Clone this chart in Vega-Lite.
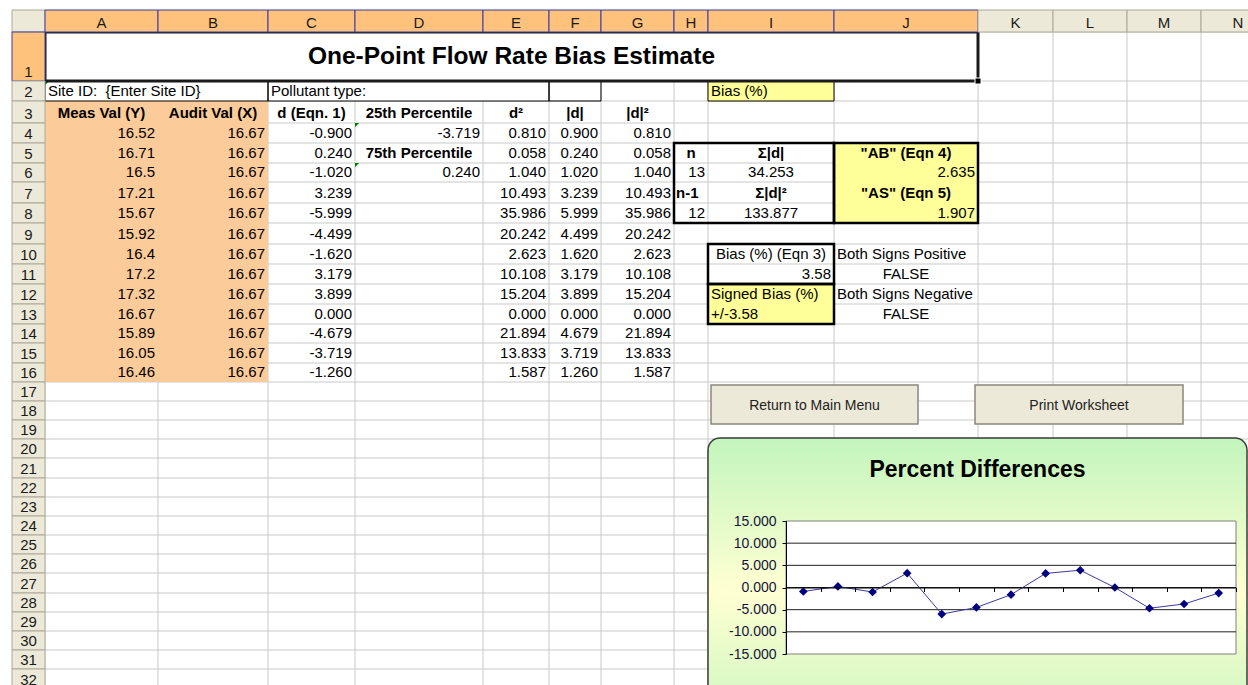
{
"$schema": "https://vega.github.io/schema/vega-lite/v6.json",
"width": 1236, "height": 675,
"autosize": {"type": "none"},
"padding": {"left": 12, "top": 10, "right": 0, "bottom": 0},
"background": "white",
"config": {
  "view": {"stroke": null},
  "text": {"font": "Liberation Sans", "fontSize": 15, "color": "#000000"},
  "axis": {"labelFont": "Liberation Sans"},
  "locale": {"number": {"decimal": ".", "thousands": ",", "grouping": [3], "currency": ["$", ""], "minus": "-"}}
},
"datasets": {
  "cols": [
    {"c": "#", "x0": 12, "x1": 45}, {"c": "A", "x0": 45, "x1": 158}, {"c": "B", "x0": 158, "x1": 268},
    {"c": "C", "x0": 268, "x1": 355}, {"c": "D", "x0": 355, "x1": 483}, {"c": "E", "x0": 483, "x1": 549},
    {"c": "F", "x0": 549, "x1": 601}, {"c": "G", "x0": 601, "x1": 674}, {"c": "H", "x0": 674, "x1": 708},
    {"c": "I", "x0": 708, "x1": 834}, {"c": "J", "x0": 834, "x1": 978}, {"c": "K", "x0": 978, "x1": 1053},
    {"c": "L", "x0": 1053, "x1": 1127}, {"c": "M", "x0": 1127, "x1": 1201}, {"c": "N", "x0": 1201, "x1": 1275}
  ],
  "rows": [
    {"r": 0, "y0": 10, "y1": 32}, {"r": 1, "y0": 32, "y1": 81}, {"r": 2, "y0": 81, "y1": 101},
    {"r": 3, "y0": 101, "y1": 123}, {"r": 4, "y0": 123, "y1": 143}, {"r": 5, "y0": 143, "y1": 163},
    {"r": 6, "y0": 163, "y1": 182}, {"r": 7, "y0": 182, "y1": 203}, {"r": 8, "y0": 203, "y1": 223},
    {"r": 9, "y0": 223, "y1": 244}, {"r": 10, "y0": 244, "y1": 264}, {"r": 11, "y0": 264, "y1": 284},
    {"r": 12, "y0": 284, "y1": 304}, {"r": 13, "y0": 304, "y1": 324}, {"r": 14, "y0": 324, "y1": 343},
    {"r": 15, "y0": 343, "y1": 363}, {"r": 16, "y0": 363, "y1": 382}, {"r": 17, "y0": 382, "y1": 401},
    {"r": 18, "y0": 401, "y1": 420}, {"r": 19, "y0": 420, "y1": 439}, {"r": 20, "y0": 439, "y1": 458},
    {"r": 21, "y0": 458, "y1": 478}, {"r": 22, "y0": 478, "y1": 497}, {"r": 23, "y0": 497, "y1": 516},
    {"r": 24, "y0": 516, "y1": 535}, {"r": 25, "y0": 535, "y1": 554}, {"r": 26, "y0": 554, "y1": 573},
    {"r": 27, "y0": 573, "y1": 593}, {"r": 28, "y0": 593, "y1": 612}, {"r": 29, "y0": 612, "y1": 631},
    {"r": 30, "y0": 631, "y1": 650}, {"r": 31, "y0": 650, "y1": 669}, {"r": 32, "y0": 669, "y1": 689}
  ],
  "pct": [
    {"i": 1, "d": -0.900}, {"i": 2, "d": 0.240}, {"i": 3, "d": -1.020}, {"i": 4, "d": 3.239},
    {"i": 5, "d": -5.999}, {"i": 6, "d": -4.499}, {"i": 7, "d": -1.620}, {"i": 8, "d": 3.179},
    {"i": 9, "d": 3.899}, {"i": 10, "d": 0.000}, {"i": 11, "d": -4.679}, {"i": 12, "d": -3.719},
    {"i": 13, "d": -1.260}
  ],
  "objs": [
    {"id": "btn", "x0": 711, "x1": 918, "y0": 385, "y1": 424, "t": "Return to Main Menu"},
    {"id": "btn", "x0": 975, "x1": 1183, "y0": 385, "y1": 424, "t": "Print Worksheet"},
    {"id": "chart", "x0": 708, "x1": 1247, "y0": 438, "y1": 745, "t": "Percent Differences"}
  ],
  "sheet": [
    {"part": "hdr", "c": "#", "r": 0, "t": "", "kind": "plain"},
    {"part": "hdr", "c": "A", "r": 0, "t": "A", "kind": "sel"},
    {"part": "hdr", "c": "B", "r": 0, "t": "B", "kind": "sel"},
    {"part": "hdr", "c": "C", "r": 0, "t": "C", "kind": "sel"},
    {"part": "hdr", "c": "D", "r": 0, "t": "D", "kind": "sel"},
    {"part": "hdr", "c": "E", "r": 0, "t": "E", "kind": "sel"},
    {"part": "hdr", "c": "F", "r": 0, "t": "F", "kind": "sel"},
    {"part": "hdr", "c": "G", "r": 0, "t": "G", "kind": "sel"},
    {"part": "hdr", "c": "H", "r": 0, "t": "H", "kind": "sel"},
    {"part": "hdr", "c": "I", "r": 0, "t": "I", "kind": "sel"},
    {"part": "hdr", "c": "J", "r": 0, "t": "J", "kind": "sel"},
    {"part": "hdr", "c": "K", "r": 0, "t": "K", "kind": "plain"},
    {"part": "hdr", "c": "L", "r": 0, "t": "L", "kind": "plain"},
    {"part": "hdr", "c": "M", "r": 0, "t": "M", "kind": "plain"},
    {"part": "hdr", "c": "N", "r": 0, "t": "N", "kind": "plain"},
    {"part": "hdr", "c": "#", "r": 1, "t": "1", "kind": "sel"},
    {"part": "hdr", "c": "#", "r": 2, "t": "2", "kind": "plain"},
    {"part": "hdr", "c": "#", "r": 3, "t": "3", "kind": "plain"},
    {"part": "hdr", "c": "#", "r": 4, "t": "4", "kind": "plain"},
    {"part": "hdr", "c": "#", "r": 5, "t": "5", "kind": "plain"},
    {"part": "hdr", "c": "#", "r": 6, "t": "6", "kind": "plain"},
    {"part": "hdr", "c": "#", "r": 7, "t": "7", "kind": "plain"},
    {"part": "hdr", "c": "#", "r": 8, "t": "8", "kind": "plain"},
    {"part": "hdr", "c": "#", "r": 9, "t": "9", "kind": "plain"},
    {"part": "hdr", "c": "#", "r": 10, "t": "10", "kind": "plain"},
    {"part": "hdr", "c": "#", "r": 11, "t": "11", "kind": "plain"},
    {"part": "hdr", "c": "#", "r": 12, "t": "12", "kind": "plain"},
    {"part": "hdr", "c": "#", "r": 13, "t": "13", "kind": "plain"},
    {"part": "hdr", "c": "#", "r": 14, "t": "14", "kind": "plain"},
    {"part": "hdr", "c": "#", "r": 15, "t": "15", "kind": "plain"},
    {"part": "hdr", "c": "#", "r": 16, "t": "16", "kind": "plain"},
    {"part": "hdr", "c": "#", "r": 17, "t": "17", "kind": "plain"},
    {"part": "hdr", "c": "#", "r": 18, "t": "18", "kind": "plain"},
    {"part": "hdr", "c": "#", "r": 19, "t": "19", "kind": "plain"},
    {"part": "hdr", "c": "#", "r": 20, "t": "20", "kind": "plain"},
    {"part": "hdr", "c": "#", "r": 21, "t": "21", "kind": "plain"},
    {"part": "hdr", "c": "#", "r": 22, "t": "22", "kind": "plain"},
    {"part": "hdr", "c": "#", "r": 23, "t": "23", "kind": "plain"},
    {"part": "hdr", "c": "#", "r": 24, "t": "24", "kind": "plain"},
    {"part": "hdr", "c": "#", "r": 25, "t": "25", "kind": "plain"},
    {"part": "hdr", "c": "#", "r": 26, "t": "26", "kind": "plain"},
    {"part": "hdr", "c": "#", "r": 27, "t": "27", "kind": "plain"},
    {"part": "hdr", "c": "#", "r": 28, "t": "28", "kind": "plain"},
    {"part": "hdr", "c": "#", "r": 29, "t": "29", "kind": "plain"},
    {"part": "hdr", "c": "#", "r": 30, "t": "30", "kind": "plain"},
    {"part": "hdr", "c": "#", "r": 31, "t": "31", "kind": "plain"},
    {"part": "hdr", "c": "#", "r": 32, "t": "32", "kind": "plain"},

    {"part": "fill", "c": "A", "c2": "J", "r": 1, "kind": "white"},
    {"part": "fill", "c": "A", "c2": "B", "r": 2, "kind": "white"},
    {"part": "fill", "c": "C", "c2": "E", "r": 2, "kind": "white"},
    {"part": "fill", "c": "A", "c2": "B", "r": 3, "r2": 16, "kind": "input"},
    {"part": "fill", "c": "I", "r": 2, "kind": "result"},
    {"part": "fill", "c": "J", "r": 5, "r2": 8, "kind": "result"},
    {"part": "fill", "c": "I", "r": 12, "r2": 13, "kind": "result"},

    {"part": "box", "c": "A", "c2": "J", "r": 1, "kind": "title"},
    {"part": "box", "c": "A", "c2": "B", "r": 2, "kind": "thin"},
    {"part": "box", "c": "C", "c2": "E", "r": 2, "kind": "thin"},
    {"part": "box", "c": "F", "r": 2, "kind": "thin"},
    {"part": "box", "c": "I", "r": 2, "kind": "thin"},
    {"part": "box", "c": "H", "c2": "I", "r": 5, "r2": 8, "kind": "thick"},
    {"part": "box", "c": "J", "r": 5, "r2": 8, "kind": "thick"},
    {"part": "box", "c": "I", "r": 10, "r2": 11, "kind": "thick"},
    {"part": "box", "c": "I", "r": 12, "r2": 13, "kind": "thick"},

    {"part": "flag", "c": "A", "r": 2},
    {"part": "flag", "c": "D", "r": 4},
    {"part": "flag", "c": "D", "r": 6},
    {"part": "handle", "c": "A", "c2": "J", "r": 1},

    {"part": "text", "c": "A", "c2": "J", "r": 1, "t": "One-Point Flow Rate Bias Estimate", "role": "t"},
    {"part": "text", "c": "A", "c2": "B", "r": 2, "t": "Site ID: \u00a0{Enter Site ID}", "role": "l"},
    {"part": "text", "c": "C", "c2": "E", "r": 2, "t": "Pollutant type:", "role": "l"},
    {"part": "text", "c": "I", "r": 2, "t": "Bias (%)", "role": "l"},
    {"part": "text", "c": "A", "r": 3, "t": "Meas Val (Y)", "role": "cb"},
    {"part": "text", "c": "B", "r": 3, "t": "Audit Val (X)", "role": "cb"},
    {"part": "text", "c": "C", "r": 3, "t": "d (Eqn. 1)", "role": "cb"},
    {"part": "text", "c": "D", "r": 3, "t": "25th Percentile", "role": "cb"},
    {"part": "text", "c": "E", "r": 3, "t": "d²", "role": "cb"},
    {"part": "text", "c": "F", "r": 3, "t": "|d|", "role": "cb"},
    {"part": "text", "c": "G", "r": 3, "t": "|d|²", "role": "cb"},

    {"part": "text", "c": "A", "r": 4, "t": "16.52", "role": "r"},
    {"part": "text", "c": "A", "r": 5, "t": "16.71", "role": "r"},
    {"part": "text", "c": "A", "r": 6, "t": "16.5", "role": "r"},
    {"part": "text", "c": "A", "r": 7, "t": "17.21", "role": "r"},
    {"part": "text", "c": "A", "r": 8, "t": "15.67", "role": "r"},
    {"part": "text", "c": "A", "r": 9, "t": "15.92", "role": "r"},
    {"part": "text", "c": "A", "r": 10, "t": "16.4", "role": "r"},
    {"part": "text", "c": "A", "r": 11, "t": "17.2", "role": "r"},
    {"part": "text", "c": "A", "r": 12, "t": "17.32", "role": "r"},
    {"part": "text", "c": "A", "r": 13, "t": "16.67", "role": "r"},
    {"part": "text", "c": "A", "r": 14, "t": "15.89", "role": "r"},
    {"part": "text", "c": "A", "r": 15, "t": "16.05", "role": "r"},
    {"part": "text", "c": "A", "r": 16, "t": "16.46", "role": "r"},

    {"part": "text", "c": "B", "r": 4, "t": "16.67", "role": "r"},
    {"part": "text", "c": "B", "r": 5, "t": "16.67", "role": "r"},
    {"part": "text", "c": "B", "r": 6, "t": "16.67", "role": "r"},
    {"part": "text", "c": "B", "r": 7, "t": "16.67", "role": "r"},
    {"part": "text", "c": "B", "r": 8, "t": "16.67", "role": "r"},
    {"part": "text", "c": "B", "r": 9, "t": "16.67", "role": "r"},
    {"part": "text", "c": "B", "r": 10, "t": "16.67", "role": "r"},
    {"part": "text", "c": "B", "r": 11, "t": "16.67", "role": "r"},
    {"part": "text", "c": "B", "r": 12, "t": "16.67", "role": "r"},
    {"part": "text", "c": "B", "r": 13, "t": "16.67", "role": "r"},
    {"part": "text", "c": "B", "r": 14, "t": "16.67", "role": "r"},
    {"part": "text", "c": "B", "r": 15, "t": "16.67", "role": "r"},
    {"part": "text", "c": "B", "r": 16, "t": "16.67", "role": "r"},

    {"part": "text", "c": "C", "r": 4, "t": "-0.900", "role": "r"},
    {"part": "text", "c": "C", "r": 5, "t": "0.240", "role": "r"},
    {"part": "text", "c": "C", "r": 6, "t": "-1.020", "role": "r"},
    {"part": "text", "c": "C", "r": 7, "t": "3.239", "role": "r"},
    {"part": "text", "c": "C", "r": 8, "t": "-5.999", "role": "r"},
    {"part": "text", "c": "C", "r": 9, "t": "-4.499", "role": "r"},
    {"part": "text", "c": "C", "r": 10, "t": "-1.620", "role": "r"},
    {"part": "text", "c": "C", "r": 11, "t": "3.179", "role": "r"},
    {"part": "text", "c": "C", "r": 12, "t": "3.899", "role": "r"},
    {"part": "text", "c": "C", "r": 13, "t": "0.000", "role": "r"},
    {"part": "text", "c": "C", "r": 14, "t": "-4.679", "role": "r"},
    {"part": "text", "c": "C", "r": 15, "t": "-3.719", "role": "r"},
    {"part": "text", "c": "C", "r": 16, "t": "-1.260", "role": "r"},

    {"part": "text", "c": "D", "r": 4, "t": "-3.719", "role": "r"},
    {"part": "text", "c": "D", "r": 5, "t": "75th Percentile", "role": "cb"},
    {"part": "text", "c": "D", "r": 6, "t": "0.240", "role": "r"},

    {"part": "text", "c": "E", "r": 4, "t": "0.810", "role": "r"},
    {"part": "text", "c": "E", "r": 5, "t": "0.058", "role": "r"},
    {"part": "text", "c": "E", "r": 6, "t": "1.040", "role": "r"},
    {"part": "text", "c": "E", "r": 7, "t": "10.493", "role": "r"},
    {"part": "text", "c": "E", "r": 8, "t": "35.986", "role": "r"},
    {"part": "text", "c": "E", "r": 9, "t": "20.242", "role": "r"},
    {"part": "text", "c": "E", "r": 10, "t": "2.623", "role": "r"},
    {"part": "text", "c": "E", "r": 11, "t": "10.108", "role": "r"},
    {"part": "text", "c": "E", "r": 12, "t": "15.204", "role": "r"},
    {"part": "text", "c": "E", "r": 13, "t": "0.000", "role": "r"},
    {"part": "text", "c": "E", "r": 14, "t": "21.894", "role": "r"},
    {"part": "text", "c": "E", "r": 15, "t": "13.833", "role": "r"},
    {"part": "text", "c": "E", "r": 16, "t": "1.587", "role": "r"},

    {"part": "text", "c": "F", "r": 4, "t": "0.900", "role": "r"},
    {"part": "text", "c": "F", "r": 5, "t": "0.240", "role": "r"},
    {"part": "text", "c": "F", "r": 6, "t": "1.020", "role": "r"},
    {"part": "text", "c": "F", "r": 7, "t": "3.239", "role": "r"},
    {"part": "text", "c": "F", "r": 8, "t": "5.999", "role": "r"},
    {"part": "text", "c": "F", "r": 9, "t": "4.499", "role": "r"},
    {"part": "text", "c": "F", "r": 10, "t": "1.620", "role": "r"},
    {"part": "text", "c": "F", "r": 11, "t": "3.179", "role": "r"},
    {"part": "text", "c": "F", "r": 12, "t": "3.899", "role": "r"},
    {"part": "text", "c": "F", "r": 13, "t": "0.000", "role": "r"},
    {"part": "text", "c": "F", "r": 14, "t": "4.679", "role": "r"},
    {"part": "text", "c": "F", "r": 15, "t": "3.719", "role": "r"},
    {"part": "text", "c": "F", "r": 16, "t": "1.260", "role": "r"},

    {"part": "text", "c": "G", "r": 4, "t": "0.810", "role": "r"},
    {"part": "text", "c": "G", "r": 5, "t": "0.058", "role": "r"},
    {"part": "text", "c": "G", "r": 6, "t": "1.040", "role": "r"},
    {"part": "text", "c": "G", "r": 7, "t": "10.493", "role": "r"},
    {"part": "text", "c": "G", "r": 8, "t": "35.986", "role": "r"},
    {"part": "text", "c": "G", "r": 9, "t": "20.242", "role": "r"},
    {"part": "text", "c": "G", "r": 10, "t": "2.623", "role": "r"},
    {"part": "text", "c": "G", "r": 11, "t": "10.108", "role": "r"},
    {"part": "text", "c": "G", "r": 12, "t": "15.204", "role": "r"},
    {"part": "text", "c": "G", "r": 13, "t": "0.000", "role": "r"},
    {"part": "text", "c": "G", "r": 14, "t": "21.894", "role": "r"},
    {"part": "text", "c": "G", "r": 15, "t": "13.833", "role": "r"},
    {"part": "text", "c": "G", "r": 16, "t": "1.587", "role": "r"},

    {"part": "text", "c": "H", "r": 5, "t": "n", "role": "cb"},
    {"part": "text", "c": "I", "r": 5, "t": "Σ|d|", "role": "cb"},
    {"part": "text", "c": "H", "r": 6, "t": "13", "role": "r"},
    {"part": "text", "c": "I", "r": 6, "t": "34.253", "role": "c"},
    {"part": "text", "c": "H", "r": 7, "t": "n-1", "role": "lb"},
    {"part": "text", "c": "I", "r": 7, "t": "Σ|d|²", "role": "cb"},
    {"part": "text", "c": "H", "r": 8, "t": "12", "role": "r"},
    {"part": "text", "c": "I", "r": 8, "t": "133.877", "role": "c"},
    {"part": "text", "c": "J", "r": 5, "t": "\"AB\" (Eqn 4)", "role": "cb"},
    {"part": "text", "c": "J", "r": 6, "t": "2.635", "role": "r"},
    {"part": "text", "c": "J", "r": 7, "t": "\"AS\" (Eqn 5)", "role": "cb"},
    {"part": "text", "c": "J", "r": 8, "t": "1.907", "role": "r"},
    {"part": "text", "c": "I", "r": 10, "t": "Bias (%) (Eqn 3)", "role": "c"},
    {"part": "text", "c": "I", "r": 11, "t": "3.58", "role": "r"},
    {"part": "text", "c": "I", "r": 12, "t": "Signed Bias (%)", "role": "l"},
    {"part": "text", "c": "I", "r": 13, "t": "+/-3.58", "role": "l"},
    {"part": "text", "c": "J", "r": 10, "t": "Both Signs Positive", "role": "l"},
    {"part": "text", "c": "J", "r": 11, "t": "FALSE", "role": "c"},
    {"part": "text", "c": "J", "r": 12, "t": "Both Signs Negative", "role": "l"},
    {"part": "text", "c": "J", "r": 13, "t": "FALSE", "role": "c"}
  ]
},
"layer": [
  {
    "layer": [
      {
        "data": {"name": "cols"},
        "mark": {"type": "rule", "color": "#c9c9c9", "strokeWidth": 1},
        "encoding": {
          "x": {"field": "x1", "type": "quantitative", "scale": {"domain": [12, 1248]}, "axis": null},
          "y": {"datum": 10, "type": "quantitative", "scale": {"domain": [10, 685], "reverse": true}, "axis": null},
          "y2": {"datum": 700}
        }
      },
      {
        "data": {"name": "rows"},
        "mark": {"type": "rule", "color": "#c9c9c9", "strokeWidth": 1},
        "encoding": {
          "y": {"field": "y1", "type": "quantitative", "scale": {"domain": [10, 685], "reverse": true}, "axis": null},
          "x": {"datum": 12, "type": "quantitative", "scale": {"domain": [12, 1248]}, "axis": null},
          "x2": {"datum": 1300}
        }
      },
      {
        "data": {"name": "sheet"},
        "transform": [
          {"lookup": "c", "from": {"data": {"name": "cols"}, "key": "c", "fields": ["x0", "x1"]}},
          {"calculate": "datum.c2 ? datum.c2 : datum.c", "as": "cb2"},
          {"lookup": "cb2", "from": {"data": {"name": "cols"}, "key": "c", "fields": ["x1"]}, "as": ["xe"]},
          {"lookup": "r", "from": {"data": {"name": "rows"}, "key": "r", "fields": ["y0", "y1"]}},
          {"calculate": "datum.r2 ? datum.r2 : datum.r", "as": "rb2"},
          {"lookup": "rb2", "from": {"data": {"name": "rows"}, "key": "r", "fields": ["y1"]}, "as": ["ye"]},
          {"calculate": "(datum.x0 + datum.xe) / 2", "as": "xm"},
          {"calculate": "(datum.y0 + datum.ye) / 2", "as": "ym"}
        ],
        "layer": [
          {
            "transform": [{"filter": "datum.part === 'fill'"}],
            "mark": {"type": "rect"},
            "encoding": {
              "x": {"field": "x0", "type": "quantitative", "scale": {"domain": [12, 1248]}, "axis": null},
              "x2": {"field": "xe"},
              "y": {"field": "y0", "type": "quantitative", "scale": {"domain": [10, 685], "reverse": true}, "axis": null},
              "y2": {"field": "ye"},
              "color": {"field": "kind", "type": "nominal", "legend": null,
                "scale": {"domain": ["sel", "plain", "input", "result", "white"], "range": ["#ffc27c", "#ece9d8", "#fccb9a", "#ffff99", "#ffffff"]}}
            }
          },
          {
            "transform": [{"filter": "datum.part === 'flag'"}],
            "mark": {"type": "point", "shape": "M0,0L1,0L0,1Z", "filled": true, "color": "#008000", "size": 70, "opacity": 1},
            "encoding": {
              "x": {"field": "x0", "type": "quantitative", "scale": {"domain": [12, 1248]}, "axis": null},
              "y": {"field": "y0", "type": "quantitative", "scale": {"domain": [10, 685], "reverse": true}, "axis": null}
            }
          },
          {
            "transform": [{"filter": "datum.part === 'text' && datum.role === 'l'"}],
            "mark": {"type": "text", "align": "left", "baseline": "alphabetic", "dx": 3, "dy": -5},
            "encoding": {
              "x": {"field": "x0", "type": "quantitative", "scale": {"domain": [12, 1248]}, "axis": null},
              "y": {"field": "ye", "type": "quantitative", "scale": {"domain": [10, 685], "reverse": true}, "axis": null},
              "text": {"field": "t"}
            }
          },
          {
            "transform": [{"filter": "datum.part === 'text' && datum.role === 'r'"}],
            "mark": {"type": "text", "align": "right", "baseline": "alphabetic", "dx": -3, "dy": -5},
            "encoding": {
              "x": {"field": "xe", "type": "quantitative", "scale": {"domain": [12, 1248]}, "axis": null},
              "y": {"field": "ye", "type": "quantitative", "scale": {"domain": [10, 685], "reverse": true}, "axis": null},
              "text": {"field": "t"}
            }
          },
          {
            "transform": [{"filter": "datum.part === 'text' && datum.role === 'c'"}],
            "mark": {"type": "text", "align": "center", "baseline": "alphabetic", "dy": -5},
            "encoding": {
              "x": {"field": "xm", "type": "quantitative", "scale": {"domain": [12, 1248]}, "axis": null},
              "y": {"field": "ye", "type": "quantitative", "scale": {"domain": [10, 685], "reverse": true}, "axis": null},
              "text": {"field": "t"}
            }
          },
          {
            "transform": [{"filter": "datum.part === 'text' && datum.role === 'cb'"}],
            "mark": {"type": "text", "align": "center", "baseline": "alphabetic", "dy": -5, "fontWeight": "bold"},
            "encoding": {
              "x": {"field": "xm", "type": "quantitative", "scale": {"domain": [12, 1248]}, "axis": null},
              "y": {"field": "ye", "type": "quantitative", "scale": {"domain": [10, 685], "reverse": true}, "axis": null},
              "text": {"field": "t"}
            }
          },
          {
            "transform": [{"filter": "datum.part === 'text' && datum.role === 'lb'"}],
            "mark": {"type": "text", "align": "left", "baseline": "alphabetic", "dx": 2, "dy": -5, "fontWeight": "bold"},
            "encoding": {
              "x": {"field": "x0", "type": "quantitative", "scale": {"domain": [12, 1248]}, "axis": null},
              "y": {"field": "ye", "type": "quantitative", "scale": {"domain": [10, 685], "reverse": true}, "axis": null},
              "text": {"field": "t"}
            }
          },
          {
            "transform": [{"filter": "datum.part === 'text' && datum.role === 't'"}],
            "mark": {"type": "text", "align": "center", "baseline": "middle", "fontWeight": "bold", "fontSize": 24.5},
            "encoding": {
              "x": {"field": "xm", "type": "quantitative", "scale": {"domain": [12, 1248]}, "axis": null},
              "y": {"field": "ym", "type": "quantitative", "scale": {"domain": [10, 685], "reverse": true}, "axis": null},
              "text": {"field": "t"}
            }
          },
          {
            "transform": [{"filter": "datum.part === 'box' && datum.kind === 'thin'"}],
            "mark": {"type": "rect", "filled": false, "color": "#000000", "strokeWidth": 1},
            "encoding": {
              "x": {"field": "x0", "type": "quantitative", "scale": {"domain": [12, 1248]}, "axis": null},
              "x2": {"field": "xe"},
              "y": {"field": "y0", "type": "quantitative", "scale": {"domain": [10, 685], "reverse": true}, "axis": null},
              "y2": {"field": "ye"}
            }
          },
          {
            "transform": [{"filter": "datum.part === 'box' && datum.kind === 'thick'"}],
            "mark": {"type": "rect", "filled": false, "color": "#000000", "strokeWidth": 2.5},
            "encoding": {
              "x": {"field": "x0", "type": "quantitative", "scale": {"domain": [12, 1248]}, "axis": null},
              "x2": {"field": "xe"},
              "y": {"field": "y0", "type": "quantitative", "scale": {"domain": [10, 685], "reverse": true}, "axis": null},
              "y2": {"field": "ye"}
            }
          },
          {
            "transform": [{"filter": "datum.part === 'box' && datum.kind === 'title'"}],
            "mark": {"type": "rect", "filled": false, "color": "#1a1a1a", "strokeWidth": 3},
            "encoding": {
              "x": {"field": "x0", "type": "quantitative", "scale": {"domain": [12, 1248]}, "axis": null},
              "x2": {"field": "xe"},
              "y": {"field": "y0", "type": "quantitative", "scale": {"domain": [10, 685], "reverse": true}, "axis": null},
              "y2": {"field": "ye"}
            }
          },
          {
            "transform": [{"filter": "datum.part === 'handle'"}],
            "mark": {"type": "point", "shape": "square", "filled": true, "color": "#000000", "size": 36, "opacity": 1, "stroke": "#ffffff", "strokeWidth": 1},
            "encoding": {
              "x": {"field": "xe", "type": "quantitative", "scale": {"domain": [12, 1248]}, "axis": null},
              "y": {"field": "ye", "type": "quantitative", "scale": {"domain": [10, 685], "reverse": true}, "axis": null}
            }
          },
          {
            "transform": [{"filter": "datum.part === 'hdr'"}],
            "mark": {"type": "rect", "strokeWidth": 1},
            "encoding": {
              "x": {"field": "x0", "type": "quantitative", "scale": {"domain": [12, 1248]}, "axis": null},
              "x2": {"field": "xe"},
              "y": {"field": "y0", "type": "quantitative", "scale": {"domain": [10, 685], "reverse": true}, "axis": null},
              "y2": {"field": "ye"},
              "color": {"field": "kind", "type": "nominal", "legend": null,
                "scale": {"domain": ["sel", "plain", "input", "result", "white"], "range": ["#ffc27c", "#ece9d8", "#fccb9a", "#ffff99", "#ffffff"]}},
              "stroke": {"field": "kind", "type": "nominal", "legend": null,
                "scale": {"domain": ["sel", "plain"], "range": ["#3b3ba0", "#aca899"]}}
            }
          },
          {
            "transform": [{"filter": "datum.part === 'hdr'"}],
            "mark": {"type": "text", "align": "center", "baseline": "alphabetic", "dy": -4, "color": "#1a1a1a"},
            "encoding": {
              "x": {"field": "xm", "type": "quantitative", "scale": {"domain": [12, 1248]}, "axis": null},
              "y": {"field": "ye", "type": "quantitative", "scale": {"domain": [10, 685], "reverse": true}, "axis": null},
              "text": {"field": "t"}
            }
          }
        ]
      },
      {
        "data": {"name": "objs"},
        "transform": [
          {"calculate": "(datum.x0 + datum.x1) / 2", "as": "xm"},
          {"calculate": "(datum.y0 + datum.y1) / 2", "as": "ym"}
        ],
        "layer": [
          {
            "transform": [{"filter": "datum.id === 'chart'"}],
            "mark": {"type": "rect", "cornerRadius": 12, "stroke": "#3a3a3a", "strokeWidth": 1.5,
              "fill": {"gradient": "linear", "x1": 0, "y1": 0, "x2": 0, "y2": 1,
                "stops": [{"offset": 0, "color": "#c3f5bd"}, {"offset": 0.5, "color": "#ffffd2"}, {"offset": 1, "color": "#c3f5bd"}]}},
            "encoding": {
              "x": {"field": "x0", "type": "quantitative", "scale": {"domain": [12, 1248]}, "axis": null},
              "x2": {"field": "x1"},
              "y": {"field": "y0", "type": "quantitative", "scale": {"domain": [10, 685], "reverse": true}, "axis": null},
              "y2": {"field": "y1"}
            }
          },
          {
            "transform": [{"filter": "datum.id === 'btn'"}],
            "mark": {"type": "rect", "fill": "#ece9d8", "stroke": "#8a887a", "strokeWidth": 1.5},
            "encoding": {
              "x": {"field": "x0", "type": "quantitative", "scale": {"domain": [12, 1248]}, "axis": null},
              "x2": {"field": "x1"},
              "y": {"field": "y0", "type": "quantitative", "scale": {"domain": [10, 685], "reverse": true}, "axis": null},
              "y2": {"field": "y1"}
            }
          },
          {
            "transform": [{"filter": "datum.id === 'btn'"}],
            "mark": {"type": "text", "align": "center", "baseline": "middle", "fontSize": 14, "dy": 1, "color": "#222222"},
            "encoding": {
              "x": {"field": "xm", "type": "quantitative", "scale": {"domain": [12, 1248]}, "axis": null},
              "y": {"field": "ym", "type": "quantitative", "scale": {"domain": [10, 685], "reverse": true}, "axis": null},
              "text": {"field": "t"}
            }
          },
          {
            "transform": [{"filter": "datum.id === 'chart'"}],
            "mark": {"type": "text", "align": "center", "baseline": "middle", "fontSize": 23, "fontWeight": "bold", "dy": 32},
            "encoding": {
              "x": {"field": "xm", "type": "quantitative", "scale": {"domain": [12, 1248]}, "axis": null},
              "y": {"field": "y0", "type": "quantitative", "scale": {"domain": [10, 685], "reverse": true}, "axis": null},
              "text": {"field": "t"}
            }
          }
        ]
      }
    ]
  },
  {
    "layer": [
      {
        "data": {"values": [{"area": "plot"}]},
        "mark": {"type": "rect", "fill": "#ffffff", "stroke": "#808080", "strokeWidth": 1},
        "encoding": {
          "x": {"datum": 0.5, "type": "quantitative", "scale": {"domain": [0.5, 13.5], "range": [774, 1224]},
            "axis": {"orient": "bottom", "offset": -97.5, "values": [0.5, 1.5, 2.5, 3.5, 4.5, 5.5, 6.5, 7.5, 8.5, 9.5, 10.5, 11.5, 12.5, 13.5],
              "labels": false, "ticks": true, "tickSize": 4, "tickColor": "#000000", "domainColor": "#000000", "grid": false, "title": null, "zindex": 1}},
          "x2": {"datum": 13.5},
          "y": {"datum": -15, "type": "quantitative", "scale": {"domain": [-15, 15], "range": [644, 511]},
            "axis": {"orient": "left", "offset": -774, "values": [-15, -10, -5, 0, 5, 10, 15], "format": ".3f",
              "labelFontSize": 14, "labelColor": "#14143c", "labelPadding": 6, "labelFlush": false, "labelOverlap": false,
              "tickSize": 4, "tickColor": "#000000", "domainColor": "#000000", "grid": false, "title": null, "zindex": 1}},
          "y2": {"datum": 15}
        }
      },
      {
        "data": {"values": [{"v": -10}, {"v": -5}, {"v": 0}, {"v": 5}, {"v": 10}]},
        "mark": {"type": "rule", "color": "#222222", "strokeWidth": 1},
        "encoding": {
          "y": {"field": "v", "type": "quantitative", "scale": {"domain": [-15, 15], "range": [644, 511]},
            "axis": {"orient": "left", "offset": -774, "values": [-15, -10, -5, 0, 5, 10, 15], "format": ".3f",
              "labelFontSize": 14, "labelColor": "#14143c", "labelPadding": 6, "labelFlush": false, "labelOverlap": false,
              "tickSize": 4, "tickColor": "#000000", "domainColor": "#000000", "grid": false, "title": null, "zindex": 1}},
          "x": {"datum": 0.5, "type": "quantitative", "scale": {"domain": [0.5, 13.5], "range": [774, 1224]},
            "axis": {"orient": "bottom", "offset": -97.5, "values": [0.5, 1.5, 2.5, 3.5, 4.5, 5.5, 6.5, 7.5, 8.5, 9.5, 10.5, 11.5, 12.5, 13.5],
              "labels": false, "ticks": true, "tickSize": 4, "tickColor": "#000000", "domainColor": "#000000", "grid": false, "title": null, "zindex": 1}},
          "x2": {"datum": 13.5}
        }
      },
      {
        "data": {"name": "pct"},
        "mark": {"type": "line", "color": "#3a3aa0", "strokeWidth": 1},
        "encoding": {
          "x": {"field": "i", "type": "quantitative", "scale": {"domain": [0.5, 13.5], "range": [774, 1224]},
            "axis": {"orient": "bottom", "offset": -97.5, "values": [0.5, 1.5, 2.5, 3.5, 4.5, 5.5, 6.5, 7.5, 8.5, 9.5, 10.5, 11.5, 12.5, 13.5],
              "labels": false, "ticks": true, "tickSize": 4, "tickColor": "#000000", "domainColor": "#000000", "grid": false, "title": null, "zindex": 1}},
          "y": {"field": "d", "type": "quantitative", "scale": {"domain": [-15, 15], "range": [644, 511]},
            "axis": {"orient": "left", "offset": -774, "values": [-15, -10, -5, 0, 5, 10, 15], "format": ".3f",
              "labelFontSize": 14, "labelColor": "#14143c", "labelPadding": 6, "labelFlush": false, "labelOverlap": false,
              "tickSize": 4, "tickColor": "#000000", "domainColor": "#000000", "grid": false, "title": null, "zindex": 1}}
        }
      },
      {
        "data": {"name": "pct"},
        "mark": {"type": "point", "shape": "diamond", "filled": true, "color": "#000080", "size": 75, "opacity": 1},
        "encoding": {
          "x": {"field": "i", "type": "quantitative", "scale": {"domain": [0.5, 13.5], "range": [774, 1224]},
            "axis": {"orient": "bottom", "offset": -97.5, "values": [0.5, 1.5, 2.5, 3.5, 4.5, 5.5, 6.5, 7.5, 8.5, 9.5, 10.5, 11.5, 12.5, 13.5],
              "labels": false, "ticks": true, "tickSize": 4, "tickColor": "#000000", "domainColor": "#000000", "grid": false, "title": null, "zindex": 1}},
          "y": {"field": "d", "type": "quantitative", "scale": {"domain": [-15, 15], "range": [644, 511]},
            "axis": {"orient": "left", "offset": -774, "values": [-15, -10, -5, 0, 5, 10, 15], "format": ".3f",
              "labelFontSize": 14, "labelColor": "#14143c", "labelPadding": 6, "labelFlush": false, "labelOverlap": false,
              "tickSize": 4, "tickColor": "#000000", "domainColor": "#000000", "grid": false, "title": null, "zindex": 1}}
        }
      }
    ]
  }
],
"resolve": {"scale": {"x": "independent", "y": "independent"}}
}
